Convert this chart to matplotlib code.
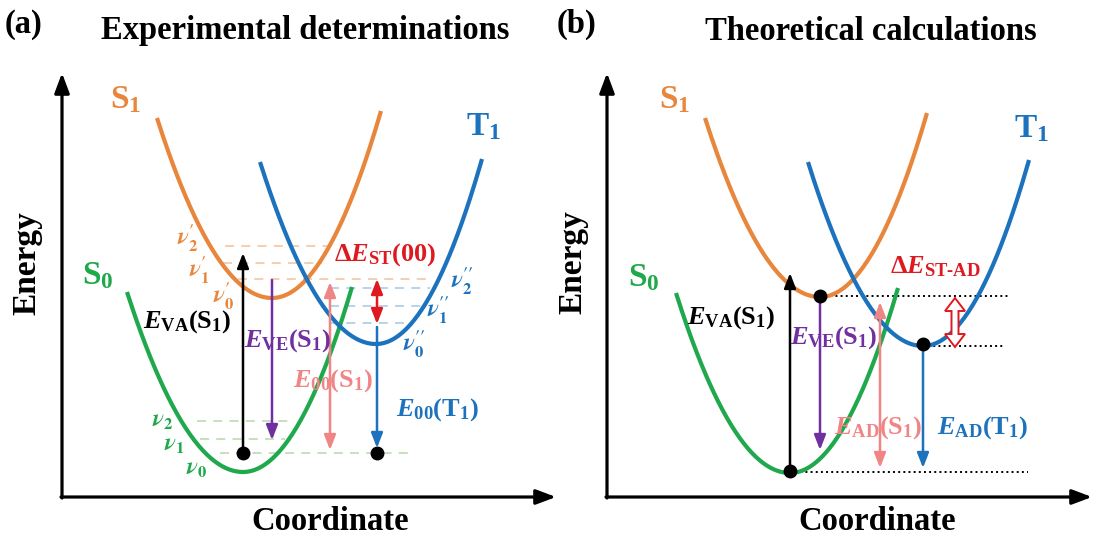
import numpy as np
import matplotlib.pyplot as plt
from matplotlib.patches import Polygon

plt.rcParams['font.family'] = ['Liberation Serif', 'DejaVu Serif']
plt.rcParams['font.weight'] = 'bold'
plt.rcParams['mathtext.fontset'] = 'custom'
plt.rcParams['mathtext.rm'] = 'Liberation Serif:bold'
plt.rcParams['mathtext.it'] = 'Liberation Serif:italic:bold'
plt.rcParams['mathtext.bf'] = 'Liberation Serif:bold'

ORANGE = '#E8863C'
BLUE = '#1C72BC'
GREEN = '#1FA84C'
PURPLE = '#7030A0'
PINK = '#F08585'
RED = '#DE1A20'
LORANGE = '#F5CBA8'
LBLUE = '#B2CFEA'
LGREEN = '#C2DDB8'

# the whole sketch lives in picture pixels (x right, y down)
W, H = 1095, 539

# potential wells S0, S1, T1: left end, bottom, right end
well_colors = [GREEN, ORANGE, BLUE]
a_left = [(127, 292), (157, 118), (260, 162)]
a_bottom = [(243, 472), (272, 298), (376, 344)]
a_right = [(352, 287), (381, 111), (482, 159)]
b_left = [(676, 293), (705, 118), (808, 162)]
b_bottom = [(790, 473), (820, 297), (923, 346)]
b_right = [(898, 288), (927, 113), (1029, 160)]

# vibrational levels of panel (a): height, x from, x to
s1_levels = [(279, 238, 428), (263, 223, 322), (246, 225, 330)]
t1_levels = [(323, 330, 405), (306, 330, 425), (288, 330, 430)]
s0_levels = [(453, 220, 413), (439, 200, 285), (421, 197, 293)]

# dotted reference levels of panel (b)
b_levels = [(296, 820, 1008), (346, 923, 1003), (472, 790, 1028)]

# vertical transitions: x, from, to, colour, two heads
a_arrows = [(243, 453, 253, 'black', False), (272, 280, 440, PURPLE, False),
            (330, 282, 450, PINK, True), (377, 279, 324, RED, True),
            (377, 327, 448, BLUE, False)]
b_arrows = [(790, 471, 273, 'black', False), (820, 296, 450, PURPLE, False),
            (880, 302, 468, PINK, True), (923, 344, 468, BLUE, False)]

a_dots = [(243, 453), (377, 453)]
b_dots = [(820, 296), (923, 344), (790, 471)]

big_labels = [(126, 100, r'$\mathrm{S}_1$', ORANGE), (98, 276, r'$\mathrm{S}_0$', GREEN),
              (484, 127, r'$\mathrm{T}_1$', BLUE), (675, 100, r'$\mathrm{S}_1$', ORANGE),
              (644, 278, r'$\mathrm{S}_0$', GREEN), (1032, 129, r'$\mathrm{T}_1$', BLUE)]

energy_labels = [(187, 322, r'$E_{\mathrm{VA}}(\mathrm{S}_1)$', 'black'),
                 (288, 341, r'$E_{\mathrm{VE}}(\mathrm{S}_1)$', PURPLE),
                 (333, 381, r'$E_{00}(\mathrm{S}_1)$', PINK),
                 (437, 410, r'$E_{00}(\mathrm{T}_1)$', BLUE),
                 (385, 255, r'$\Delta E_{\mathrm{ST}}(00)$', RED),
                 (731, 318, r'$E_{\mathrm{VA}}(\mathrm{S}_1)$', 'black'),
                 (834, 338, r'$E_{\mathrm{VE}}(\mathrm{S}_1)$', PURPLE),
                 (935, 267, r'$\Delta E_{\mathrm{ST\text{-}AD}}$', RED),
                 (878, 428, r'$E_{\mathrm{AD}}(\mathrm{S}_1)$', PINK),
                 (983, 428, r'$E_{\mathrm{AD}}(\mathrm{T}_1)$', BLUE)]

nu_labels = [(188, 238, r"$\nu^{\!\prime}_2$", ORANGE), (199, 270, r"$\nu^{\!\prime}_1$", ORANGE),
             (224, 296, r"$\nu^{\!\prime}_0$", ORANGE),
             (462, 281, r"$\nu^{\!\prime\prime}_2$", BLUE),
             (438, 310, r"$\nu^{\!\prime\prime}_1$", BLUE),
             (414, 344, r"$\nu^{\!\prime\prime}_0$", BLUE),
             (163, 422, r"$\nu_2$", GREEN), (174, 445, r"$\nu_1$", GREEN),
             (197, 469, r"$\nu_0$", GREEN)]


def well(left, bottom, right, n=80):
    # two half parabolas meeting at the bottom
    xl = np.linspace(left[0], bottom[0], n)
    yl = bottom[1] + (left[1] - bottom[1]) * ((xl - bottom[0]) / (left[0] - bottom[0])) ** 2
    xr = np.linspace(bottom[0], right[0], n)
    yr = bottom[1] + (right[1] - bottom[1]) * ((xr - bottom[0]) / (right[0] - bottom[0])) ** 2
    return np.concatenate([xl, xr]), np.concatenate([yl, yr])


def arrow(ax, x0, y0, x1, y1, color, both=False, lw=1.8, hl=0.9, hw=0.35):
    style = '<|-|>' if both else '-|>'
    ax.annotate('', xy=(x1, y1), xytext=(x0, y0),
                arrowprops=dict(arrowstyle=f'{style},head_length={hl},head_width={hw}',
                                color=color, lw=lw, shrinkA=0, shrinkB=0,
                                mutation_scale=10))


fig = plt.figure(figsize=(W / 100, H / 100), dpi=100)
ax = fig.add_axes([0, 0, 1, 1])
ax.set_xlim(0, W)
ax.set_ylim(H, 0)
ax.axis('off')

for lefts, bottoms, rights in [(a_left, a_bottom, a_right), (b_left, b_bottom, b_right)]:
    for l, b, r, c in zip(lefts, bottoms, rights, well_colors):
        x, y = well(l, b, r)
        ax.plot(x, y, color=c, lw=3, solid_capstyle='butt', zorder=3)

for levels, c in [(s1_levels, LORANGE), (t1_levels, LBLUE), (s0_levels, LGREEN)]:
    for y, x0, x1 in levels:
        ax.plot([x0, x1], [y, y], color=c, lw=1.3, ls=(0, (5, 4)), zorder=2)

for y, x0, x1 in b_levels:
    ax.plot([x0, x1], [y, y], color='black', lw=1.4, ls=':', zorder=2)

for x, y0, y1, c, both in a_arrows + b_arrows:
    arrow(ax, x, y0, x, y1, c, both)

# hollow double arrow for the adiabatic gap
hx, top, bot = 955, 298, 347
hh, hs, hlen = 10, 3.5, 13
ax.add_patch(Polygon([(hx, top), (hx + hh, top + hlen), (hx + hs, top + hlen),
                      (hx + hs, bot - hlen), (hx + hh, bot - hlen), (hx, bot),
                      (hx - hh, bot - hlen), (hx - hs, bot - hlen), (hx - hs, top + hlen),
                      (hx - hh, top + hlen)], closed=True, facecolor='white',
                     edgecolor=RED, lw=1.4, zorder=4))

for x, y in a_dots + b_dots:
    ax.plot(x, y, 'o', color='black', ms=9, zorder=6)

# axes with arrow heads
for x0, x1 in [(62, 556), (607, 1092)]:
    arrow(ax, x0 - 1, 497, x1, 497, 'black', lw=2.3, hl=1.2, hw=0.45)
    arrow(ax, x0, 498, x0, 73, 'black', lw=2.3, hl=1.2, hw=0.45)

ax.text(23, 24, '(a)', fontsize=23.5, ha='center', va='center')
ax.text(577, 24, '(b)', fontsize=23.5, ha='center', va='center')
ax.text(305, 31, 'Experimental determinations', fontsize=23.5, ha='center', va='center')
ax.text(871, 31, 'Theoretical calculations', fontsize=23.5, ha='center', va='center')
ax.text(330, 522, 'Coordinate', fontsize=23.5, ha='center', va='center')
ax.text(877, 522, 'Coordinate', fontsize=23.5, ha='center', va='center')
ax.text(27, 263, 'Energy', fontsize=24, ha='center', va='center', rotation=90)
ax.text(573, 262, 'Energy', fontsize=24, ha='center', va='center', rotation=90)

for x, y, s, c in big_labels:
    ax.text(x, y, s, fontsize=24, color=c, ha='center', va='center', zorder=7)
for x, y, s, c in energy_labels:
    ax.text(x, y, s, fontsize=19, color=c, ha='center', va='center', zorder=7)
for x, y, s, c in nu_labels:
    ax.text(x, y, s, fontsize=17, color=c, ha='center', va='center',
            fontweight='normal', math_fontfamily='stix', zorder=7)

fig.savefig('out.png', dpi=100)
